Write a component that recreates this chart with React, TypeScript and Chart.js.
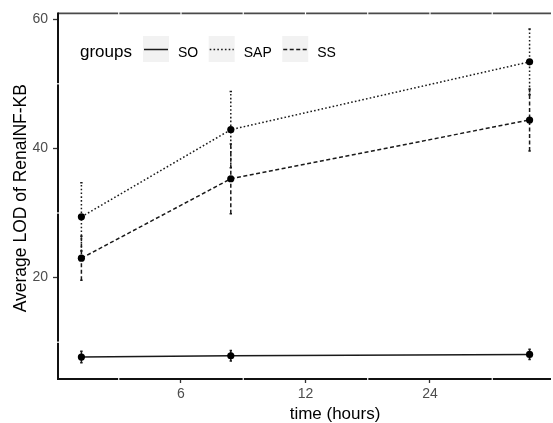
import React, { useEffect, useRef } from "react";
import { Chart, registerables } from "chart.js";

Chart.register(...registerables);

// ---- data ----
const timeHours = [0, 6, 18];
const groupNames = ["SO", "SAP", "SS"];
const soMean = [7.7, 7.9, 8.1];
const soSE = [0.9, 0.8, 0.8];
const sapMean = [29.4, 42.9, 53.4];
const sapSE = [5.3, 5.9, 5.1];
const ssMean = [23.0, 35.3, 44.4];
const ssSE = [3.4, 5.4, 4.8];

const xTickValues = [4, 9, 14];
const xTickLabels = ["6", "12", "24"];
const xMinorValues = [1.5, 6.5, 11.5, 16.5];
const yTickValues = [20, 40, 60];
const yMinorValues = [10, 30, 50];

const xTitle = "time (hours)";
const yTitle = "Average LOD of RenalNF-KB";
const legendTitle = "groups";

const FONT = '"Liberation Sans", Arial, sans-serif';
const LINE_COLOR = "#1a1a1a";
const LINE_WIDTH = 1.5;
const dashPatterns: number[][] = [[], [1.6, 2.2], [4, 2.5]];

const means = [soMean, sapMean, ssMean];
const ses = [soSE, sapSE, ssSE];

const errorBarPlugin = {
  id: "errorBars",
  beforeDatasetsDraw(chart: any) {
    const { ctx } = chart;
    const xs = chart.scales.x;
    const ys = chart.scales.y;
    chart.data.datasets.forEach((ds: any) => {
      ctx.save();
      ctx.strokeStyle = LINE_COLOR;
      ctx.lineWidth = LINE_WIDTH;
      ds.data.forEach((p: any, i: number) => {
        const se = ds.se[i];
        const px = xs.getPixelForValue(p.x);
        const y1 = ys.getPixelForValue(p.y - se);
        const y2 = ys.getPixelForValue(p.y + se);
        ctx.setLineDash(ds.borderDash || []);
        ctx.beginPath();
        ctx.moveTo(px, y1);
        ctx.lineTo(px, y2);
        ctx.stroke();
        ctx.setLineDash([]);
        ctx.beginPath();
        ctx.moveTo(px - 1.2, y1);
        ctx.lineTo(px + 1.2, y1);
        ctx.moveTo(px - 1.2, y2);
        ctx.lineTo(px + 1.2, y2);
        ctx.stroke();
      });
      ctx.restore();
    });
  },
};

const framePlugin = {
  id: "frame",
  beforeDatasetsDraw(chart: any) {
    const { ctx, chartArea: a } = chart;
    const xs = chart.scales.x;
    const ys = chart.scales.y;
    ctx.save();
    ctx.strokeStyle = "#4a4a4a";
    ctx.lineWidth = 1.7;
    ctx.beginPath();
    ctx.moveTo(a.left, a.top);
    ctx.lineTo(a.right + 2, a.top);
    ctx.stroke();
    ctx.strokeStyle = "#111";
    ctx.lineWidth = 2;
    ctx.beginPath();
    ctx.moveTo(a.left, a.top - 1);
    ctx.lineTo(a.left, a.bottom);
    ctx.lineTo(a.right + 2, a.bottom);
    ctx.stroke();
    ctx.fillStyle = "#fff";
    [...xMinorValues, ...xTickValues].forEach((v) => {
      const px = xs.getPixelForValue(v);
      ctx.fillRect(px - 0.6, a.top - 1.5, 1.2, 3);
      if (!xTickValues.includes(v)) ctx.fillRect(px - 0.6, a.bottom - 1.5, 1.2, 3);
    });
    yMinorValues.forEach((v) => {
      const py = ys.getPixelForValue(v);
      ctx.fillRect(a.left - 1.5, py - 0.6, 3, 1.2);
    });
    ctx.restore();
  },
  afterDraw(chart: any) {
    const { ctx, chartArea: a } = chart;
    ctx.save();
    ctx.fillStyle = "#000";
    ctx.font = `17px ${FONT}`;
    ctx.textAlign = "center";
    ctx.textBaseline = "alphabetic";
    ctx.fillText(xTitle, 335, 419);
    ctx.save();
    ctx.translate(26, (a.top + a.bottom) / 2 + 2);
    ctx.rotate(-Math.PI / 2);
    ctx.font = `17.5px ${FONT}`;
    ctx.fillText(yTitle, 0, 0);
    ctx.restore();

    let x = 80;
    const base = 57;
    ctx.textAlign = "left";
    ctx.font = `17px ${FONT}`;
    ctx.fillText(legendTitle, x, base);
    x += ctx.measureText(legendTitle).width + 11;
    ctx.font = `14px ${FONT}`;
    groupNames.forEach((name, i) => {
      ctx.fillStyle = "#f2f2f2";
      ctx.fillRect(x, 36, 26, 26);
      ctx.strokeStyle = LINE_COLOR;
      ctx.lineWidth = LINE_WIDTH;
      ctx.setLineDash(dashPatterns[i]);
      ctx.beginPath();
      ctx.moveTo(x + 1, 49.5);
      ctx.lineTo(x + 25, 49.5);
      ctx.stroke();
      ctx.setLineDash([]);
      x += 26 + 9;
      ctx.fillStyle = "#000";
      ctx.fillText(name, x, base - 0.5);
      x += ctx.measureText(name).width + 10.5;
    });
    ctx.restore();
  },
};

export default function App() {
  const ref = useRef<HTMLCanvasElement>(null);
  useEffect(() => {
    if (!ref.current) return;
    const datasets = groupNames.map((name, gi) => ({
      label: name,
      data: timeHours.map((t, i) => ({ x: t, y: means[gi][i] })),
      se: ses[gi],
      borderColor: LINE_COLOR,
      borderWidth: LINE_WIDTH,
      borderDash: dashPatterns[gi],
      pointRadius: 3.6,
      pointBackgroundColor: "#000",
      pointBorderColor: "#000",
      pointBorderWidth: 0,
      tension: 0,
      fill: false,
    }));
    const chart = new Chart(ref.current, {
      type: "line",
      data: { datasets } as any,
      options: {
        responsive: false,
        animation: false,
        devicePixelRatio: 1,
        layout: { padding: { top: 13, right: 0, bottom: 0, left: 0 } },
        plugins: { legend: { display: false }, tooltip: { enabled: false } },
        scales: {
          x: {
            type: "linear",
            min: -0.94,
            max: 18.78,
            afterBuildTicks: (s: any) => {
              s.ticks = [...xMinorValues, ...xTickValues]
                .sort((a, b) => a - b)
                .map((v) => ({ value: v }));
            },
            afterFit: (s: any) => {
              s.height = 44;
            },
            grid: {
              drawOnChartArea: false,
              drawTicks: true,
              tickLength: 4,
              tickWidth: 1.3,
              tickColor: (c: any) =>
                c.tick && xTickValues.includes(c.tick.value) ? "#333" : "rgba(0,0,0,0)",
            },
            border: { display: false },
            ticks: {
              autoSkip: false,
              maxRotation: 0,
              padding: 3,
              color: "#4d4d4d",
              font: { family: FONT, size: 14 },
              callback: (v: any) => {
                const i = xTickValues.indexOf(Number(v));
                return i >= 0 ? xTickLabels[i] : "";
              },
            },
          },
          y: {
            type: "linear",
            min: 4.3,
            max: 60.9,
            afterBuildTicks: (s: any) => {
              s.ticks = [...yMinorValues, ...yTickValues]
                .sort((a, b) => a - b)
                .map((v) => ({ value: v }));
            },
            afterFit: (s: any) => {
              s.width = 58;
            },
            grid: {
              drawOnChartArea: false,
              drawTicks: true,
              tickLength: 5,
              tickWidth: 1.3,
              tickColor: (c: any) =>
                c.tick && yTickValues.includes(c.tick.value) ? "#333" : "rgba(0,0,0,0)",
            },
            border: { display: false },
            ticks: {
              autoSkip: false,
              padding: 5,
              color: "#4d4d4d",
              font: { family: FONT, size: 14 },
              callback: (v: any) => (yTickValues.includes(Number(v)) ? String(v) : ""),
            },
          },
        },
      },
      plugins: [errorBarPlugin, framePlugin],
    } as any);
    return () => chart.destroy();
  }, []);
  return (
    <div style={{ position: "absolute", left: 0, top: 0, width: 553, height: 423, background: "#fff" }}>
      <canvas ref={ref} width={553} height={423} style={{ display: "block" }} />
    </div>
  );
}
